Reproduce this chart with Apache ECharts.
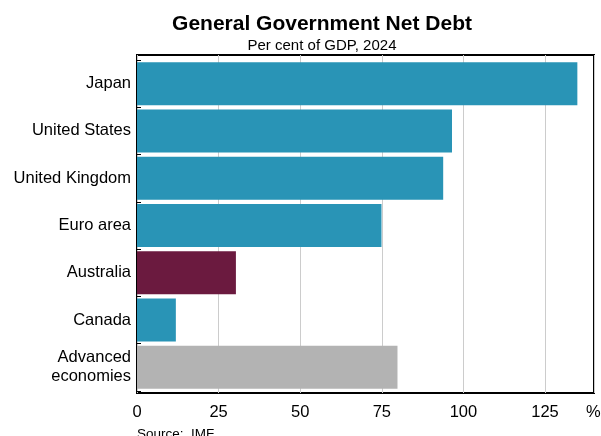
<!DOCTYPE html>
<html>
<head>
<meta charset="utf-8">
<script src="https://cdn.jsdelivr.net/npm/echarts@6/dist/echarts.min.js"></script>
<style>
  html, body { margin: 0; padding: 0; background: #fff; }
  #main-chart { width: 601px; height: 436px; }
</style>
</head>
<body>
<div id="main-chart"></div>
<script>
const categories = ['Japan', 'United States', 'United Kingdom', 'Euro area', 'Australia', 'Canada', 'Advanced\neconomies'];
const debtValues = [134.9, 96.5, 93.8, 74.9, 30.3, 11.9, 79.8];
const barColours = ['#2994b6', '#2994b6', '#2994b6', '#2994b6', '#6b1a3f', '#2994b6', '#b3b3b3'];
const xTicks = [0, 25, 50, 75, 100, 125];

const font = 'Liberation Sans, Arial, sans-serif';
const myChart = echarts.init(document.getElementById('main-chart'));

const option = {
    animation: false,
    title: [{
        text: 'General Government Net Debt',
        left: 317, top: 9, textAlign: 'center',
        textStyle: { fontFamily: font, fontSize: 21, fontWeight: 'bold', color: '#000' }
    }, {
        text: 'Per cent of GDP, 2024',
        left: 317, top: 33, textAlign: 'center',
        textStyle: { fontFamily: font, fontSize: 15, fontWeight: 'normal', color: '#000' }
    }],
    grid: [
        // outer frame: gridlines + border + x labels
        { left: 137, right: 7, top: 55, bottom: 43, show: true, borderColor: '#000', borderWidth: 2 },
        // inner area for the bars (small padding top/bottom)
        { left: 137, right: 7, top: 60, bottom: 45 }
    ],
    xAxis: [{
        type: 'value', gridIndex: 0,
        min: 0, max: 140, interval: 25,
        axisLine: { show: false },
        axisTick: { show: false },
        splitLine: { lineStyle: { color: '#cccccc', width: 1 } },
        axisLabel: {
            fontFamily: font, fontSize: 16.5, color: '#000', margin: 11,
            formatter: v => xTicks.includes(v) ? String(v) : ''
        }
    }, {
        type: 'value', gridIndex: 1,
        min: 0, max: 140,
        show: false,
        splitLine: { show: false }
    }],
    yAxis: [{
        type: 'value', gridIndex: 0,
        show: false,
        splitLine: { show: false }
    }, {
        type: 'category', gridIndex: 1,
        inverse: true,
        data: categories,
        axisLine: { show: false },
        axisTick: { show: true, inside: true, length: 4, lineStyle: { color: '#000', width: 1 } },
        axisLabel: { fontFamily: font, fontSize: 16.5, color: '#000', margin: 6, lineHeight: 19 }
    }],
    series: [{
        type: 'bar',
        xAxisIndex: 1, yAxisIndex: 1,
        barCategoryGap: '9%',
        data: debtValues.map((v, i) => ({ value: v, itemStyle: { color: barColours[i] } }))
    }],
    graphic: [{
        type: 'text', left: 586, top: 404,
        style: { text: '%', fontFamily: font, fontSize: 16.5, fill: '#000' }
    }, {
        type: 'text', left: 137, top: 427,
        style: { text: 'Source:  IMF.', fontFamily: font, fontSize: 13.5, fill: '#000' }
    }]
};

myChart.setOption(option);
</script>
</body>
</html>
